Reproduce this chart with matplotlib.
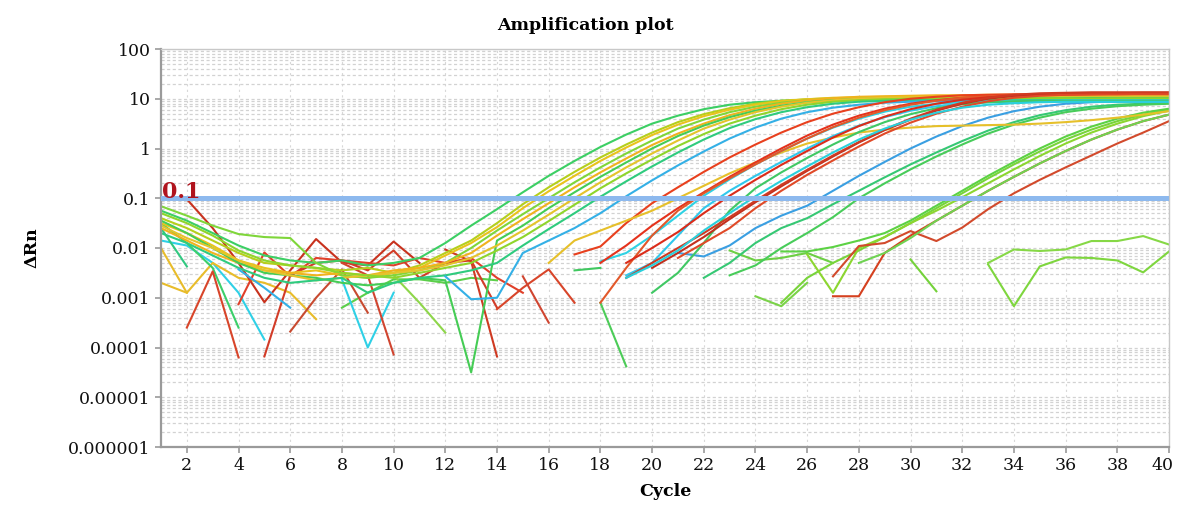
import numpy as np
import matplotlib
matplotlib.use("Agg")
import matplotlib.pyplot as plt
import matplotlib.transforms as mtransforms
from matplotlib.ticker import FixedLocator, LogLocator, NullFormatter

nan = np.nan

# ---------------- data (log10 of delta Rn, one value per cycle) ----------------
cycle_ticks = list(range(2, 41, 2))
y_tick_values = [1e-6, 1e-5, 1e-4, 1e-3, 1e-2, 1e-1, 1, 10, 100]
y_tick_labels = ["0.000001", "0.00001", "0.0001", "0.001", "0.01", "0.1", "1", "10", "100"]
threshold = 0.1

# early amplifying wells (start at cycle 1)
early_starts = [1] * 10
early_log_drn = [
    [-1.25, -1.45, -1.7, -1.95, -2.15, -2.25, -2.3, -2.25, -2.35, -2.3,
     -2.2, -1.9, -1.55, -1.22, -0.88, -0.55, -0.25, 0.03, 0.28, 0.5,
     0.66, 0.79, 0.88, 0.93, 0.96, 0.98, 0.99, 1.0, 1.0, 1.0,
     1.0, 1.0, 0.99, 0.99, 0.99, 0.98, 0.98, 0.97, 0.97, 0.96],
    [-1.4, -1.6, -1.85, -2.1, -2.3, -2.35, -2.4, -2.45, -2.4, -2.5,
     -2.35, -2.1, -1.85, -1.5, -1.12, -0.78, -0.47, -0.18, 0.08, 0.32,
     0.53, 0.69, 0.81, 0.9, 0.96, 0.99, 1.01, 1.02, 1.03, 1.03,
     1.04, 1.04, 1.04, 1.04, 1.05, 1.05, 1.05, 1.05, 1.05, 1.05],
    [-1.5, -1.7, -1.95, -2.25, -2.4, -2.5, -2.45, -2.55, -2.6, -2.5,
     -2.4, -2.15, -1.9, -1.58, -1.2, -0.86, -0.55, -0.25, 0.02, 0.27,
     0.48, 0.65, 0.78, 0.88, 0.95, 0.99, 1.02, 1.03, 1.04, 1.05,
     1.05, 1.06, 1.06, 1.06, 1.07, 1.07, 1.07, 1.07, 1.08, 1.08],
    [-1.16, -1.35, -1.55, -1.72, -1.78, -1.8, -2.3, -2.55, -2.6, -2.55,
     -2.45, -2.3, -2.0, -1.65, -1.32, -1.0, -0.68, -0.38, -0.1, 0.16,
     0.4, 0.58, 0.73, 0.84, 0.92, 0.97, 1.0, 1.01, 1.02, 1.02,
     1.02, 1.02, 1.03, 1.03, 1.03, 1.03, 1.03, 1.03, 1.03, 1.03],
    [-1.6, -1.85, -2.1, -2.3, -2.45, -2.5, -2.55, -2.5, -2.55, -2.45,
     -2.4, -2.3, -2.1, -1.75, -1.42, -1.1, -0.78, -0.48, -0.2, 0.07,
     0.3, 0.5, 0.67, 0.8, 0.9, 0.97, 1.01, 1.04, 1.05, 1.06,
     1.07, 1.07, 1.08, 1.08, 1.08, 1.08, 1.09, 1.09, 1.09, 1.09],
    [-1.45, -1.7, -2.0, -2.3, -2.5, -2.55, -2.6, -2.7, -2.75, -2.7,
     -2.6, -2.65, -4.5, -1.85, -1.55, -1.2, -0.88, -0.57, -0.28, 0.0,
     0.25, 0.46, 0.63, 0.76, 0.86, 0.93, 0.97, 0.99, 1.0, 1.0,
     1.0, 1.01, 1.01, 1.01, 1.01, 1.01, 1.01, 1.0, 1.0, 1.0],
    [-1.55, -1.8, -2.0, -2.25, -2.45, -2.55, -2.65, -2.6, -2.55, -2.5,
     -2.45, -2.35, -2.2, -1.95, -1.65, -1.33, -1.0, -0.68, -0.38, -0.1,
     0.16, 0.4, 0.58, 0.73, 0.84, 0.92, 0.97, 1.0, 1.02, 1.03,
     1.04, 1.04, 1.05, 1.05, 1.05, 1.06, 1.06, 1.06, 1.06, 1.06],
    [-1.3, -1.5, -1.75, -2.05, -2.25, -2.35, -2.4, -2.5, -2.55, -2.6,
     -2.5, -2.4, -2.3, -2.05, -1.78, -1.46, -1.13, -0.8, -0.5, -0.22,
     0.05, 0.29, 0.5, 0.66, 0.79, 0.88, 0.94, 0.97, 0.99, 1.0,
     1.0, 1.01, 1.01, 1.01, 1.01, 1.01, 1.0, 1.0, 1.0, 1.0],
    [-1.7, -1.9, -2.15, -2.4, -2.6, -2.7, -2.65, -2.6, -2.9, -2.7,
     -2.6, -2.55, -2.45, -2.3, -1.95, -1.62, -1.3, -0.97, -0.66, -0.36,
     -0.08, 0.18, 0.41, 0.59, 0.73, 0.83, 0.9, 0.94, 0.96, 0.97,
     0.97, 0.97, 0.97, 0.97, 0.97, 0.96, 0.96, 0.96, 0.96, 0.96],
    [nan, nan, nan, -2.43, -2.8, -3.2, nan, nan, nan, nan,
     nan, -2.57, -3.03, -3.0, -2.1, -1.85, -1.6, -1.3, -0.96, -0.64,
     -0.34, -0.06, 0.2, 0.42, 0.6, 0.73, 0.82, 0.88, 0.92, 0.94,
     0.95, 0.95, 0.95, 0.95, 0.95, 0.95, 0.94, 0.94, 0.94, 0.94],
]
early_colors = ["#3ccf64", "#b5cf1c", "#e9c31c", "#7fd63a", "#f0b21e",
                "#45cc55", "#e4c42c", "#8fd52c", "#2fcb7e", "#34b0e6"]

# middle wells
mid_starts = [17, 16, 18, 18, 18, 19, 19, 20, 20, 21, 19, 19]
mid_log_drn = [
    [-2.13, -1.97, -1.5, -1.1, -0.78, -0.47, -0.18, 0.08, 0.32, 0.53, 0.7, 0.83,
     0.93, 1.0, 1.04, 1.07, 1.08, 1.09, 1.09, 1.1, 1.1, 1.1, 1.1, 1.1],
    [-2.3, -1.85, -1.65, -1.45, -1.25, -1.0, -0.75, -0.5, -0.28, -0.08, 0.1, 0.22,
     0.32, 0.38, 0.42, 0.45, 0.46, 0.47, 0.48, 0.5, 0.53, 0.57, 0.62, 0.68, 0.75],
    [-2.27, -2.1, -1.75, -1.35, -0.95, -0.62, -0.32, -0.05, 0.2, 0.42, 0.6, 0.74,
     0.84, 0.9, 0.93, 0.95, 0.96, 0.96, 0.97, 0.97, 0.97, 0.97, 0.97],
    [-2.3, -1.95, -1.55, -1.2, -0.88, -0.57, -0.28, 0.0, 0.26, 0.48, 0.66, 0.8,
     0.9, 0.97, 1.02, 1.05, 1.07, 1.08, 1.09, 1.09, 1.1, 1.1, 1.1],
    [-3.1, -2.4, -1.75, -1.25, -0.9, -0.6, -0.32, -0.05, 0.2, 0.43, 0.62, 0.77,
     0.88, 0.96, 1.02, 1.05, 1.07, 1.08, 1.08, 1.09, 1.09, 1.09, 1.09],
    [-2.55, -2.3, -1.75, -1.2, -0.85, -0.55, -0.27, 0.0, 0.25, 0.46, 0.63, 0.76,
     0.85, 0.9, 0.93, 0.94, 0.95, 0.95, 0.95, 0.95, 0.95, 0.95],
    [-2.3, -2.0, -1.68, -1.3, -0.95, -0.63, -0.33, -0.05, 0.22, 0.45, 0.64, 0.79,
     0.9, 0.98, 1.03, 1.06, 1.08, 1.1, 1.1, 1.11, 1.11, 1.11],
    [-2.9, -2.5, -1.9, -1.25, -0.8, -0.48, -0.19, 0.08, 0.33, 0.53, 0.69, 0.81,
     0.89, 0.93, 0.95, 0.96, 0.96, 0.96, 0.96, 0.96, 0.96],
    [-2.4, -2.1, -1.78, -1.42, -1.08, -0.76, -0.45, -0.16, 0.12, 0.37, 0.58, 0.76,
     0.9, 1.0, 1.06, 1.09, 1.1, 1.11, 1.11, 1.12, 1.12],
    [-2.2, -1.9, -1.6, -1.2, -0.85, -0.53, -0.24, 0.04, 0.3, 0.52, 0.7, 0.84,
     0.95, 1.02, 1.06, 1.08, 1.09, 1.09, 1.1, 1.1],
    [-2.6, -2.3, -2.0, -1.7, -1.38, -1.05, -0.73, -0.43, -0.14, 0.13, 0.38, 0.6,
     0.78, 0.92, 1.02, 1.08, 1.11, 1.12, 1.13, 1.13, 1.13, 1.13],
    [-2.6, -2.35, -2.05, -1.65, -1.3, -0.96, -0.65, -0.36, -0.08, 0.18, 0.4, 0.58,
     0.72, 0.82, 0.88, 0.91, 0.93, 0.94, 0.94, 0.94, 0.94, 0.94],
]
mid_colors = ["#e8401e", "#e6c02a", "#2ed2e4", "#e5321c", "#e2582a", "#30c8ec",
              "#db2c1a", "#40c864", "#c2301e", "#e04a28", "#cf3a22", "#2ad0dc"]

# late wells
late_starts = [21, 22, 23, 25, 25, 26, 27, 27, 28]
late_log_drn = [
    [-2.1, -2.17, -1.95, -1.6, -1.35, -1.15, -0.85, -0.55, -0.27, 0.0,
     0.24, 0.45, 0.62, 0.75, 0.84, 0.9, 0.93, 0.95, 0.96, 0.96],
    [-2.6, -2.3, -1.9, -1.6, -1.4, -1.12, -0.85, -0.58, -0.32, -0.08,
     0.15, 0.36, 0.53, 0.67, 0.77, 0.84, 0.88, 0.9, 0.91],
    [-2.55, -2.35, -2.0, -1.7, -1.38, -1.0, -0.7, -0.42, -0.16, 0.08,
     0.3, 0.48, 0.62, 0.73, 0.8, 0.85, 0.88, 0.9],
    [-3.1, -2.6, -2.3, -2.05, -1.78, -1.5, -1.2, -0.9, -0.6, -0.32,
     -0.06, 0.18, 0.38, 0.55, 0.68, 0.78],
    [-2.07, -2.07, -1.98, -1.85, -1.7, -1.45, -1.15, -0.85, -0.55, -0.27,
     0.0, 0.24, 0.44, 0.6, 0.72, 0.8],
    [-2.13, -2.9, -2.0, -1.78, -1.5, -1.25, -0.98, -0.7, -0.42, -0.15,
     0.1, 0.32, 0.5, 0.65, 0.76],
    [-2.97, -2.97, -2.1, -1.75, -1.45, -1.15, -0.85, -0.57, -0.3, -0.05,
     0.18, 0.38, 0.55, 0.68],
    [-2.57, -1.96, -1.9, -1.66, -1.86, -1.59, -1.22, -0.9, -0.63, -0.38,
     -0.14, 0.1, 0.32, 0.55],
    [-2.3, -2.1, -1.8, -1.45, -1.15, -0.85, -0.57, -0.3, -0.05, 0.18,
     0.38, 0.55, 0.68],
]
late_colors = ["#3a9fe2", "#36c874", "#48cc5a", "#78d43a", "#5cd244",
               "#8cd630", "#d5401f", "#d24a2c", "#6fd352"]

# baseline noise pieces (wells whose signal dips below zero are not drawn)
noise_starts = [1, 1, 1, 1, 1, 8, 10, 17, 18,
                33, 33, 30, 23, 24,
                8,
                2, 2, 4, 5, 6, 8, 14, 15, 12]
noise_log_drn = [
    [-1.85, -1.95, -2.3, -2.9, -3.84],
    [-2.0, -2.9, -2.3, -2.6, -2.7, -2.9, -3.43],
    [-2.7, -2.9],
    [-1.5, -1.9, -2.4, -3.6],
    [-1.6, -2.37],
    [-3.2, -2.9, -2.63, -2.63, -2.7, -2.6, -2.65],
    [-2.55, -3.1, -3.7],
    [-2.45, -2.4],
    [-3.1, -4.38],
    [-2.33, -3.17, -2.37, -2.19, -2.2, -2.25, -2.49, -2.07],
    [-2.3, -2.03, -2.06, -2.03, -1.86, -1.86, -1.76, -1.93],
    [-2.23, -2.87],
    [-2.05, -2.25, -2.2, -2.1, -2.3],
    [-2.97, -3.17, -2.7],
    [-2.63, -4.0, -2.9],
    [-1.02, -1.6, -2.3, -3.09, -2.45, -1.82, -2.29, -2.35, -1.87, -2.3],
    [-3.6, -2.47, -4.2],
    [-3.13, -2.09, -2.57, -2.2, -2.25, -2.3, -2.35, -2.2, -2.3, -2.2, -2.6, -2.9],
    [-4.18, -2.55, -2.3, -2.25, -2.45, -2.05, -2.6, -2.3, -2.25, -3.2],
    [-3.68, -3.0, -2.43, -3.3],
    [-2.3, -2.55, -4.14],
    [-3.23, -2.8, -2.43, -3.1],
    [-2.57, -3.5],
    [-2.03, -2.27, -4.18],
]
noise_colors = ["#2fd0e6", "#e8bc2a", "#e8bc2a", "#3ccf6a", "#30c880", "#5ccf4a",
                "#8ed64a", "#40c860", "#4ccc58",
                "#7ed63e", "#86d846", "#74d23a", "#6ccf44", "#7ad348",
                "#2fd0e6",
                "#c8321e", "#d8452a", "#e0402a", "#d23c28", "#c84a30", "#d04530",
                "#d8452a", "#d04530", "#cf3a22"]

# ---------------- figure ----------------
plt.rcParams["font.family"] = ["DejaVu Serif"]

fig = plt.figure(figsize=(11.78, 5.05), dpi=100)
ax = fig.add_axes([161 / 1178, 1 - 447 / 505, (1169 - 161) / 1178, (447 - 49) / 505])
ax.set_yscale("log")
ax.set_xlim(1, 40)
ax.set_ylim(1e-6, 100)

ax.yaxis.set_major_locator(FixedLocator(y_tick_values))
ax.set_yticklabels(y_tick_labels)
ax.yaxis.set_minor_locator(LogLocator(base=10, subs=range(2, 10)))
ax.yaxis.set_minor_formatter(NullFormatter())
ax.set_xticks(cycle_ticks)

ax.grid(which="both", axis="y", color="#d2d2d2", ls=(0, (2.5, 2.0)), lw=0.9)
ax.grid(which="major", axis="x", color="#d8d8d8", ls=(0, (2.0, 3.0)), lw=0.8)
ax.set_axisbelow(True)

def draw(starts, curves, colors, lw=1.5, z=2):
    for s, vals, c in zip(starts, curves, colors):
        v = np.array(vals, dtype=float)
        x = s + np.arange(len(v))
        ax.plot(x, 10.0 ** v, color=c, lw=lw, zorder=z, solid_joinstyle="round")

draw(noise_starts, noise_log_drn, noise_colors)
draw(late_starts, late_log_drn, late_colors)
draw(early_starts, early_log_drn, early_colors)
draw(mid_starts, mid_log_drn, mid_colors)

ax.axhline(threshold, color="#8db9ee", lw=3.6, zorder=5)
ax.text(1.02, threshold * 1.01, "0.1", color="#b0141e", fontsize=16,
        fontweight="bold", ha="left", va="baseline", zorder=6)

for side in ("left", "bottom"):
    ax.spines[side].set_color("#9a9a9a")
    ax.spines[side].set_linewidth(1.6)
for side in ("top", "right"):
    ax.spines[side].set_color("#c8c8c8")
    ax.spines[side].set_linewidth(1.0)

ax.tick_params(axis="both", which="major", direction="out", length=4,
               color="#9a9a9a", width=1.2, labelsize=12.5, labelcolor="#111111")
ax.tick_params(axis="y", which="minor", length=0)
ax.tick_params(axis="x", pad=3)

# keep the last x tick label inside the picture
fig.canvas.draw()
last_lbl = ax.get_xticklabels()[-1]
last_lbl.set_transform(last_lbl.get_transform() +
                       mtransforms.ScaledTranslation(-6 / 100, 0, fig.dpi_scale_trans))

fig.text(0.497, 1 - 25 / 505, "Amplification plot", ha="center", va="center",
         fontsize=12.5, fontweight="bold")
ax.set_xlabel("Cycle", fontsize=12.5, fontweight="bold", labelpad=7)
ax.set_ylabel("\u0394Rn", fontsize=12.5, fontweight="bold", labelpad=20)

fig.savefig("out.png", dpi=100)
